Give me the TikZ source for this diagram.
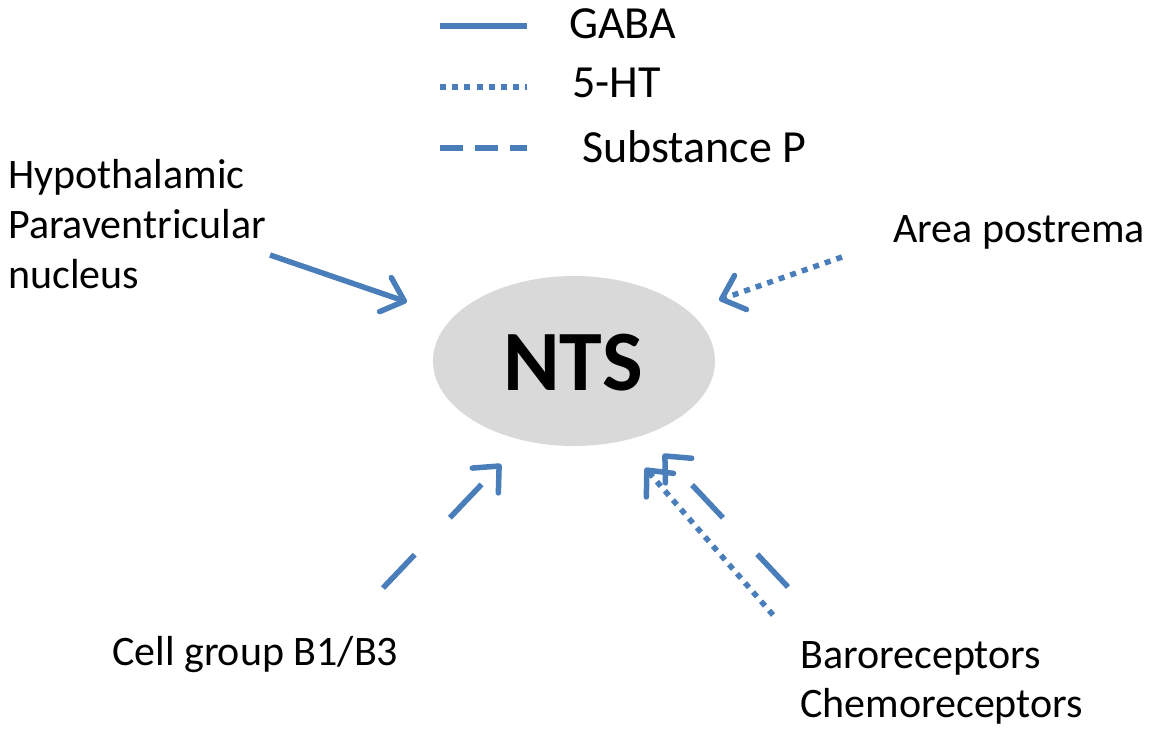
\documentclass[tikz,border=0pt]{standalone}
\usepackage{fontspec}
\setmainfont{Carlito}
\usetikzlibrary{arrows.meta,shapes.geometric}
\definecolor{arrblue}{RGB}{74,126,187}
\definecolor{ntsgray}{RGB}{217,217,217}
\tikzset{
  lbl/.style={inner sep=0pt, font=\fontsize{42}{49.5}\selectfont, text=black},
  leglbl/.style={inner sep=0pt, font=\fontsize{46}{52}\selectfont, text=black},
  conn/.style={draw=arrblue, line width=5.5pt, line cap=butt,
    -{Straight Barb[length=20pt, width=36pt, line width=5.5pt, line cap=round, line join=round]}},
  gabaline/.style={draw=arrblue, line width=5.5pt},
  htline/.style={draw=arrblue, line width=5.5pt, dash pattern=on 6pt off 6.2pt},
  legsp/.style={draw=arrblue, line width=5.5pt, dash pattern=on 23pt off 12pt},
}
\begin{document}
\begin{tikzpicture}[x=1pt, y=-1pt]
\useasboundingbox (0,0) rectangle (1158,728);
% central node
\node[ellipse, fill=ntsgray, minimum width=282pt, minimum height=170pt, inner sep=0pt] (nts) at (574,361) {};
\node[inner sep=0pt, font=\fontsize{86}{86}\bfseries\selectfont] (ntslbl) at (573,363) {NTS};
% legend
\coordinate (g1) at (440,26); \coordinate (g2) at (527,26);
\coordinate (h1) at (440,87); \coordinate (h2) at (527,87);
\coordinate (s1) at (440,148); \coordinate (s2) at (527,148);
\draw[gabaline] (g1) -- (g2);
\draw[htline] (h1) -- (h2);
\draw[legsp] (s1) -- (s2);
\node[leglbl, anchor=base west] (lgaba) at (569,38) {GABA};
\node[leglbl, anchor=base west] (lht) at (572,97) {5-HT};
\node[leglbl, anchor=base west] (lsp) at (582,162) {Substance P};
% labels
\node[lbl, anchor=base west] (hyp1) at (8,188) {Hypothalamic};
\node[lbl, anchor=base west] (hyp2) at (8,238) {Paraventricular};
\node[lbl, anchor=base west] (hyp3) at (8,288) {nucleus};
\node[lbl, anchor=base west] (area) at (893,242) {Area postrema};
\node[lbl, anchor=base west] (cell) at (112,665) {Cell group B1/B3};
\node[lbl, anchor=base west] (baro) at (800,668) {Baroreceptors};
\node[lbl, anchor=base west] (chemo) at (800,717) {Chemoreceptors};
% connector ends
\coordinate (hypS) at (270,255); \coordinate (hypE) at (407,302);
\coordinate (areaS) at (842,257); \coordinate (areaE) at (719,300);
\coordinate (cellS) at (383,588); \coordinate (cellE) at (501,464);
\coordinate (baroS) at (788,587); \coordinate (baroE) at (663,454);
\coordinate (chemS) at (773,615); \coordinate (chemE) at (645,468);
% connectors
\draw[conn] (hypS) -- (hypE);
\draw[conn, dash pattern=on 6pt off 6.2pt] (areaS) -- (areaE);
\draw[conn, dash pattern=on 46pt off 51pt] (cellS) -- (cellE);
\draw[conn, dash pattern=on 45pt off 50pt] (baroS) -- (baroE);
\draw[conn, dash pattern=on 6pt off 6.2pt] (chemS) -- (chemE);
\end{tikzpicture}
\end{document}
